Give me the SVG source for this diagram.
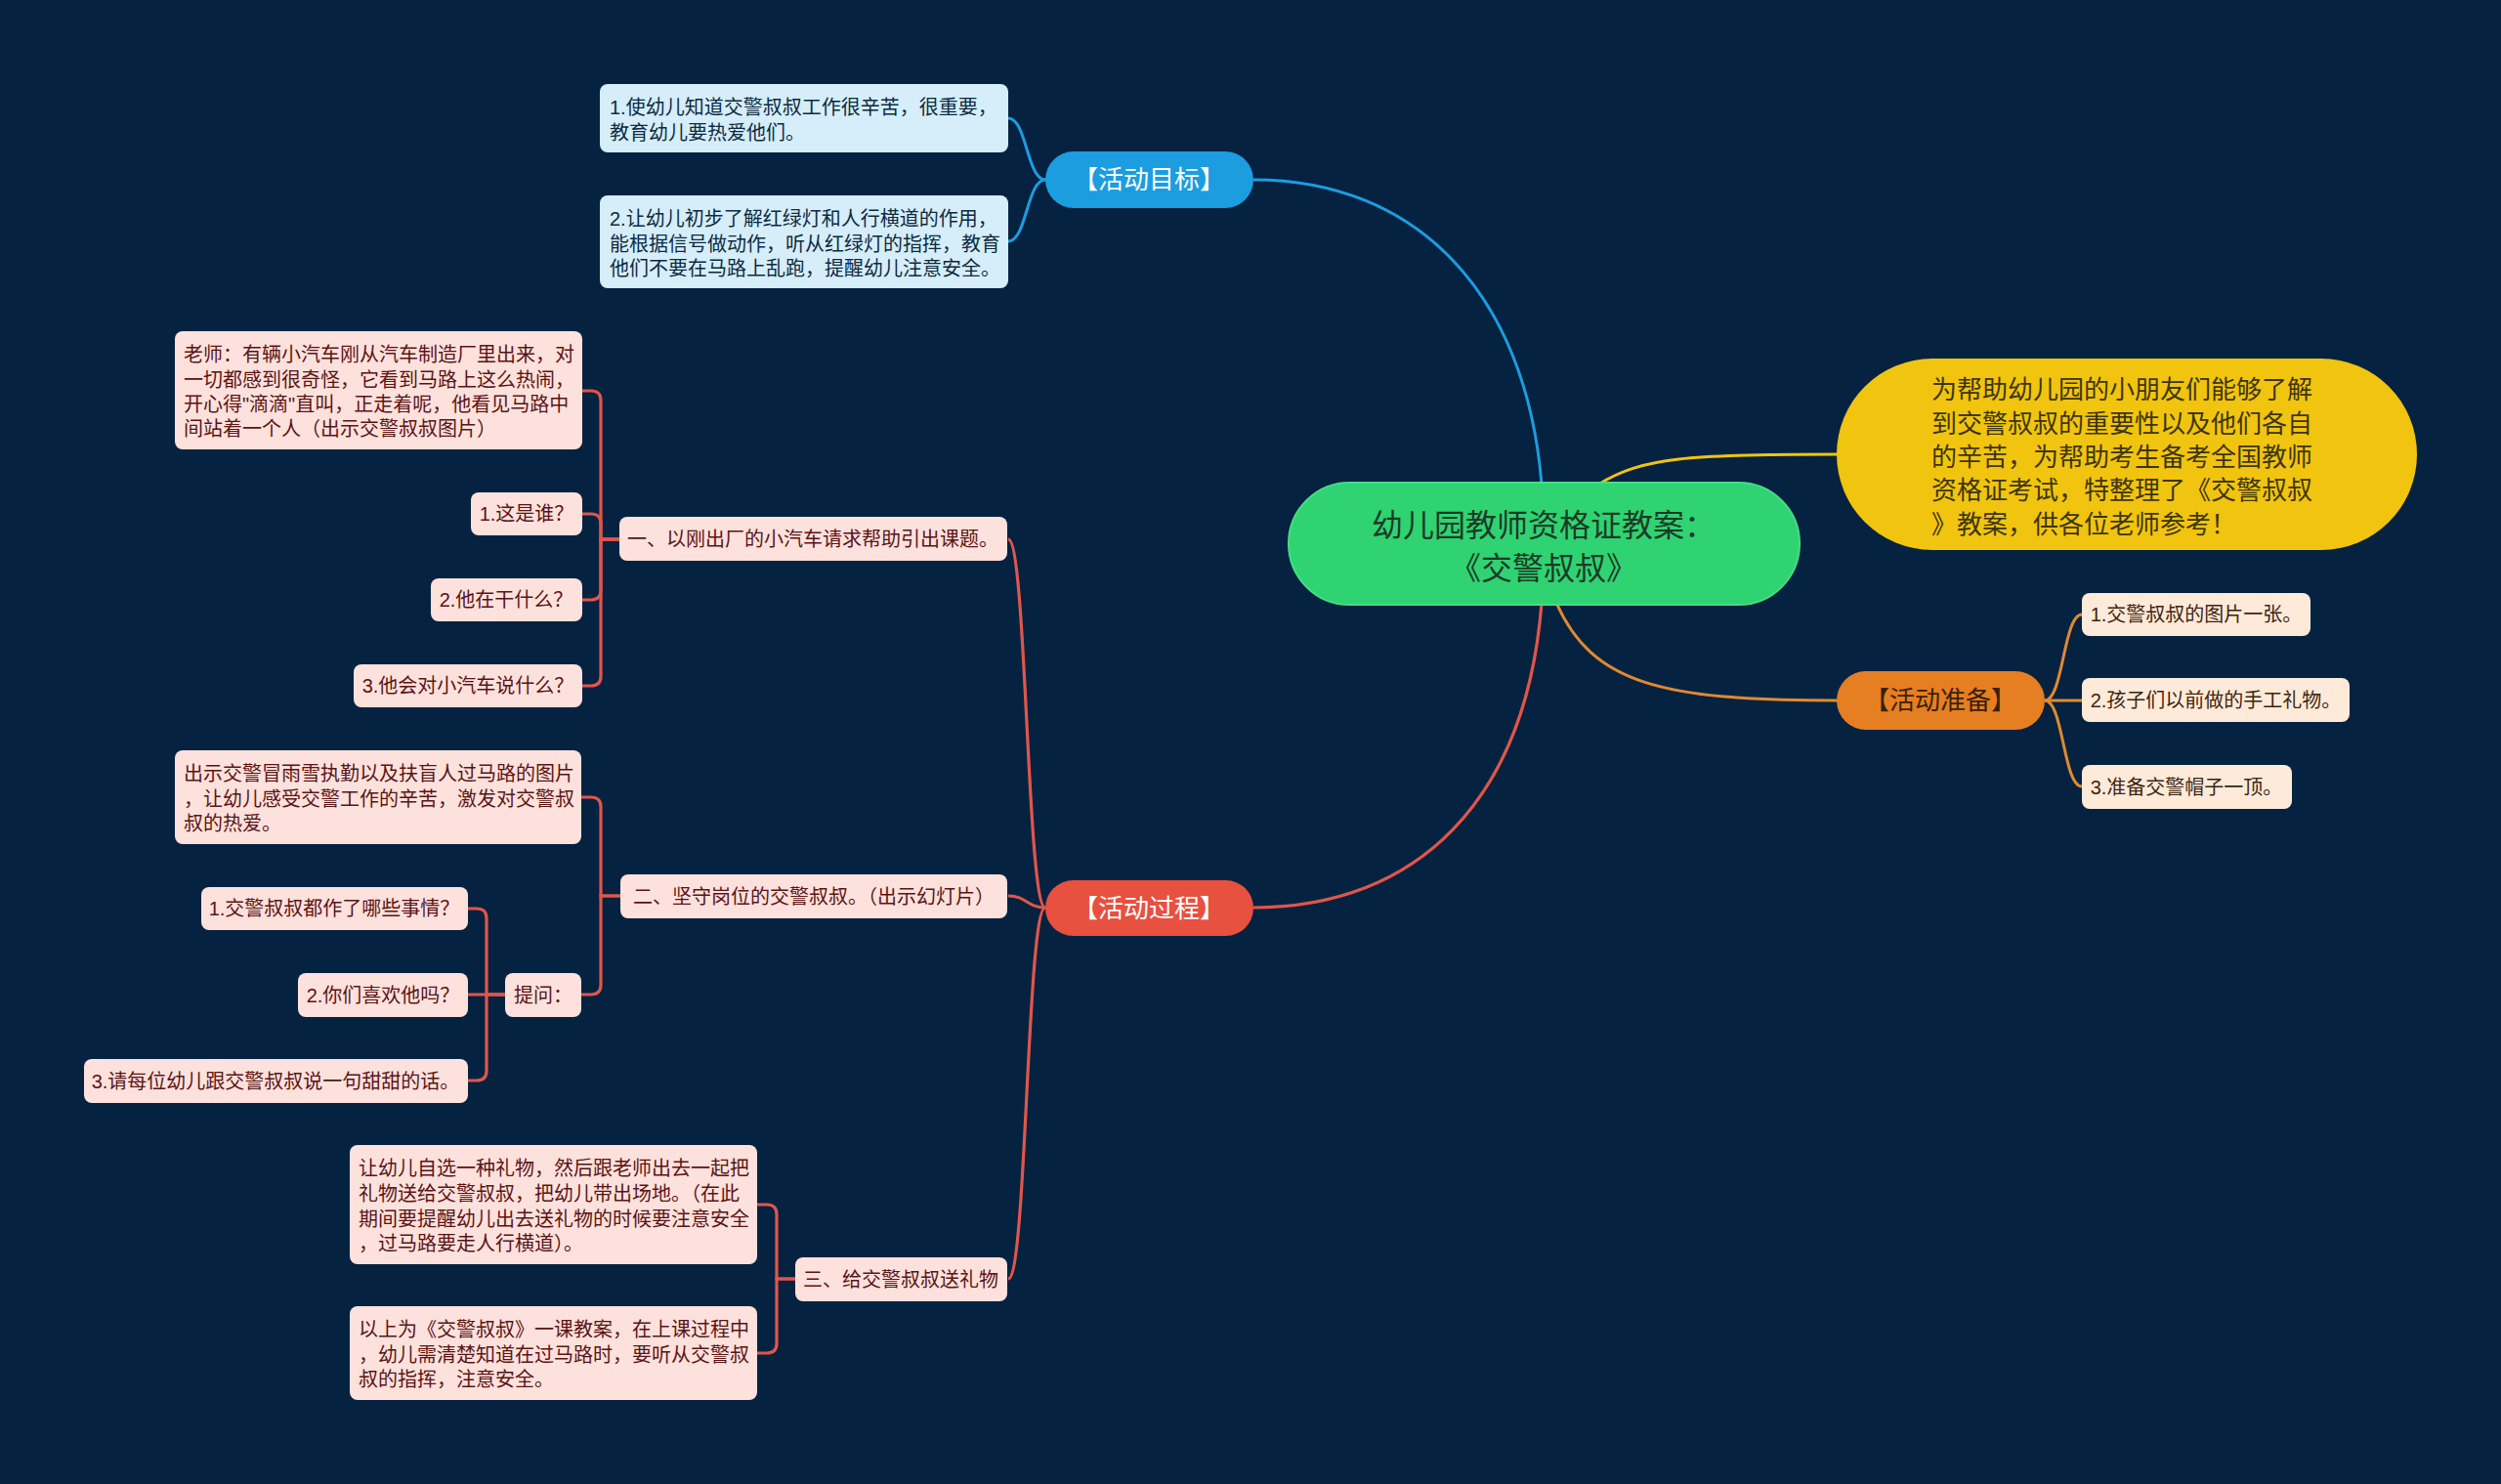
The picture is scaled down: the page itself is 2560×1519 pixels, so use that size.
<svg xmlns="http://www.w3.org/2000/svg" width="2560" height="1519" viewBox="0 0 2560 1519">
<style>
text{font-family:"Liberation Sans","Noto Sans CJK SC",sans-serif}
.f20{font-size:20px}
.f26{font-size:26px}
.f32{font-size:32px}
.mid{text-anchor:middle}
.cb{fill:#d5eefa}
.cr{fill:#fde1dc}
.co{fill:#fdead8}
.tb{fill:#0d2a40}
.tr{fill:#5a1414}
.to{fill:#3d2410}
.lb{fill:none;stroke:#1c9de0;stroke-width:3}
.lr{fill:none;stroke:#e0564a;stroke-width:3.2}
.lo{fill:none;stroke:#e08a30;stroke-width:3}
.ly{fill:none;stroke:#f1c40f;stroke-width:3}
</style>
<rect x="0" y="0" width="2560" height="1519" fill="#062241"/>

<g id="connectors">
  <path class="lb" d="M1578 496 C1562 300 1450 184 1283 184"/>
  <path class="ly" d="M1636 496 C1680 468 1730 465 1881 465"/>
  <path class="lo" d="M1593 617 C1630 700 1700 717 1881 717"/>
  <path class="lr" d="M1578 617 C1562 820 1450 929 1283 929"/>

  <path class="lb" d="M1070 184 C1051 184 1051 121 1032 121"/>
  <path class="lb" d="M1070 184 C1051 184 1051 247 1032 247"/>

  <path class="lo" d="M2093 717 C2112 717 2112 629 2131 629"/>
  <path class="lo" d="M2093 717 L2131 717"/>
  <path class="lo" d="M2093 717 C2112 717 2112 805 2131 805"/>

  <path class="lr" d="M1070 929 C1051 929 1051 552 1032 552"/>
  <path class="lr" d="M1070 929 C1051 929 1051 917 1032 917"/>
  <path class="lr" d="M1070 929 C1051 929 1051 1309 1032 1309"/>

  <path class="lr" d="M634 552 H615 V410 Q615 400 605 400 H596"/>
  <path class="lr" d="M634 552 H615 V536 Q615 526 605 526 H596"/>
  <path class="lr" d="M634 552 H615 V604 Q615 614 605 614 H596"/>
  <path class="lr" d="M634 552 H615 V692 Q615 702 605 702 H596"/>

  <path class="lr" d="M635 917 H615 V826 Q615 816 605 816 H595"/>
  <path class="lr" d="M635 917 H615 V1008 Q615 1018 605 1018 H595"/>

  <path class="lr" d="M517 1018 H498 V940 Q498 930 488 930 H479"/>
  <path class="lr" d="M517 1018 H479"/>
  <path class="lr" d="M517 1018 H498 V1096 Q498 1106 488 1106 H479"/>

  <path class="lr" d="M814 1309 H795 V1243 Q795 1233 785 1233 H775"/>
  <path class="lr" d="M814 1309 H795 V1375 Q795 1385 785 1385 H775"/>
</g>

<g id="root">
  <rect x="1319" y="494" width="523" height="125" rx="62.5" fill="#2fd372" stroke="#45dd85" stroke-width="2"/>
  <text class="f32 mid" x="1580" y="549" fill="#1c3a26">幼儿园教师资格证教案：</text>
  <text class="f32 mid" x="1580" y="593" fill="#1c3a26">《交警叔叔》</text>
</g>

<g id="intro">
  <rect x="1880" y="367" width="594" height="196" rx="98" fill="#f1c40f"/>
  <text class="f26" x="1977" y="408" fill="#3d3508">为帮助幼儿园的小朋友们能够了解</text>
  <text class="f26" x="1977" y="443" fill="#3d3508">到交警叔叔的重要性以及他们各自</text>
  <text class="f26" x="1977" y="477" fill="#3d3508">的辛苦，为帮助考生备考全国教师</text>
  <text class="f26" x="1977" y="511" fill="#3d3508">资格证考试，特整理了《交警叔叔</text>
  <text class="f26" x="1977" y="546" fill="#3d3508">》教案，供各位老师参考！</text>
</g>

<g id="goal">
  <rect x="1070" y="155" width="213" height="58" rx="29" fill="#1b9de0"/>
  <text class="f26 mid" x="1176" y="193" fill="#ffffff">【活动目标】</text>
</g>
<g id="goal-1">
  <rect class="cb" x="614" y="86" width="418" height="70" rx="8"/>
  <text class="f20 tb" x="624" y="117">1.使幼儿知道交警叔叔工作很辛苦，很重要，</text>
  <text class="f20 tb" x="624" y="143">教育幼儿要热爱他们。</text>
</g>
<g id="goal-2">
  <rect class="cb" x="614" y="200" width="418" height="95" rx="8"/>
  <text class="f20 tb" x="624" y="231">2.让幼儿初步了解红绿灯和人行横道的作用，</text>
  <text class="f20 tb" x="624" y="257">能根据信号做动作，听从红绿灯的指挥，教育</text>
  <text class="f20 tb" x="624" y="282">他们不要在马路上乱跑，提醒幼儿注意安全。</text>
</g>

<g id="prep">
  <rect x="1880" y="687" width="213" height="60" rx="30" fill="#e67e22"/>
  <text class="f26 mid" x="1986" y="726" fill="#3a2008">【活动准备】</text>
</g>
<g id="prep-1">
  <rect class="co" x="2131" y="607" width="234" height="44" rx="8"/>
  <text class="f20 to mid" x="2248" y="636">1.交警叔叔的图片一张。</text>
</g>
<g id="prep-2">
  <rect class="co" x="2131" y="694" width="274" height="45" rx="8"/>
  <text class="f20 to mid" x="2268" y="724">2.孩子们以前做的手工礼物。</text>
</g>
<g id="prep-3">
  <rect class="co" x="2131" y="783" width="215" height="45" rx="8"/>
  <text class="f20 to mid" x="2238" y="813">3.准备交警帽子一顶。</text>
</g>

<g id="process">
  <rect x="1070" y="901" width="213" height="57" rx="28.5" fill="#e8503f"/>
  <text class="f26 mid" x="1176" y="939" fill="#ffffff">【活动过程】</text>
</g>

<g id="step-1">
  <rect class="cr" x="634" y="529" width="397" height="45" rx="8"/>
  <text class="f20 tr mid" x="832" y="559">一、以刚出厂的小汽车请求帮助引出课题。</text>
</g>
<g id="step-1-a">
  <rect class="cr" x="179" y="339" width="417" height="121" rx="8"/>
  <text class="f20 tr" x="188" y="370">老师：有辆小汽车刚从汽车制造厂里出来，对</text>
  <text class="f20 tr" x="188" y="396">一切都感到很奇怪，它看到马路上这么热闹，</text>
  <text class="f20 tr" x="188" y="421">开心得"滴滴"直叫，正走着呢，他看见马路中</text>
  <text class="f20 tr" x="188" y="446">间站着一个人（出示交警叔叔图片）</text>
</g>
<g id="step-1-b">
  <rect class="cr" x="482" y="504" width="114" height="44" rx="8"/>
  <text class="f20 tr mid" x="539" y="533">1.这是谁？</text>
</g>
<g id="step-1-c">
  <rect class="cr" x="441" y="592" width="155" height="44" rx="8"/>
  <text class="f20 tr mid" x="518" y="621">2.他在干什么？</text>
</g>
<g id="step-1-d">
  <rect class="cr" x="362" y="680" width="234" height="44" rx="8"/>
  <text class="f20 tr mid" x="479" y="709">3.他会对小汽车说什么？</text>
</g>

<g id="step-2">
  <rect class="cr" x="635" y="895" width="396" height="45" rx="8"/>
  <text class="f20 tr mid" x="833" y="925">二、坚守岗位的交警叔叔。（出示幻灯片）</text>
</g>
<g id="step-2-a">
  <rect class="cr" x="179" y="768" width="416" height="96" rx="8"/>
  <text class="f20 tr" x="188" y="799">出示交警冒雨雪执勤以及扶盲人过马路的图片</text>
  <text class="f20 tr" x="188" y="825">，让幼儿感受交警工作的辛苦，激发对交警叔</text>
  <text class="f20 tr" x="188" y="850">叔的热爱。</text>
</g>
<g id="step-2-b">
  <rect class="cr" x="517" y="996" width="78" height="45" rx="8"/>
  <text class="f20 tr mid" x="556" y="1026">提问：</text>
</g>
<g id="step-2-b-1">
  <rect class="cr" x="206" y="908" width="273" height="44" rx="8"/>
  <text class="f20 tr mid" x="342" y="937">1.交警叔叔都作了哪些事情？</text>
</g>
<g id="step-2-b-2">
  <rect class="cr" x="305" y="996" width="174" height="45" rx="8"/>
  <text class="f20 tr mid" x="392" y="1026">2.你们喜欢他吗？</text>
</g>
<g id="step-2-b-3">
  <rect class="cr" x="86" y="1084" width="393" height="45" rx="8"/>
  <text class="f20 tr mid" x="282" y="1114">3.请每位幼儿跟交警叔叔说一句甜甜的话。</text>
</g>

<g id="step-3">
  <rect class="cr" x="814" y="1287" width="217" height="45" rx="8"/>
  <text class="f20 tr mid" x="922" y="1317">三、给交警叔叔送礼物</text>
</g>
<g id="step-3-a">
  <rect class="cr" x="358" y="1172" width="417" height="122" rx="8"/>
  <text class="f20 tr" x="367" y="1203">让幼儿自选一种礼物，然后跟老师出去一起把</text>
  <text class="f20 tr" x="367" y="1229">礼物送给交警叔叔，把幼儿带出场地。（在此</text>
  <text class="f20 tr" x="367" y="1255">期间要提醒幼儿出去送礼物的时候要注意安全</text>
  <text class="f20 tr" x="367" y="1280">，过马路要走人行横道）。</text>
</g>
<g id="step-3-b">
  <rect class="cr" x="358" y="1337" width="417" height="96" rx="8"/>
  <text class="f20 tr" x="367" y="1368">以上为《交警叔叔》一课教案，在上课过程中</text>
  <text class="f20 tr" x="367" y="1394">，幼儿需清楚知道在过马路时，要听从交警叔</text>
  <text class="f20 tr" x="367" y="1419">叔的指挥，注意安全。</text>
</g>
</svg>
